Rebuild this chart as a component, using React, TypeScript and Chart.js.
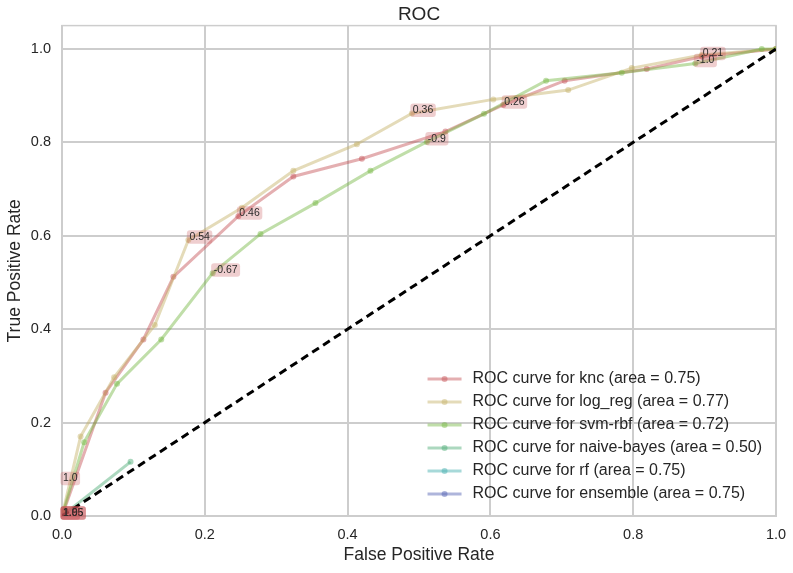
import React, { useEffect, useRef } from "react";
import { Chart, registerables } from "chart.js";

Chart.register(...registerables);

const FONT = "'Liberation Sans', Arial, Helvetica, sans-serif";
const TEXT = "#262626";
const GRID = "#cdcdcd";

const TITLE = "ROC";
const X_TITLE = "False Positive Rate";
const Y_TITLE = "True Positive Rate";

const xTicks = [0, 0.2, 0.4, 0.6, 0.8, 1.0];
const yTicks = [0, 0.2, 0.4, 0.6, 0.8, 1.0];

const seriesLabels = [
  "ROC curve for knc (area = 0.75)",
  "ROC curve for log_reg (area = 0.77)",
  "ROC curve for svm-rbf (area = 0.72)",
  "ROC curve for naive-bayes (area = 0.50)",
  "ROC curve for rf (area = 0.75)",
  "ROC curve for ensemble (area = 0.75)",
];

const seriesColors = [
  [196, 78, 82],
  [196, 176, 100],
  [115, 182, 65],
  [70, 168, 112],
  [60, 170, 170],
  [75, 90, 175],
];

const kncFpr = [0, 0.061, 0.114, 0.156, 0.247, 0.324, 0.42, 0.537, 0.618, 0.704, 0.819, 0.896, 1.0];
const kncTpr = [0, 0.264, 0.378, 0.512, 0.642, 0.727, 0.765, 0.823, 0.88, 0.932, 0.957, 0.984, 1.0];

const logRegFpr = [0, 0.026, 0.073, 0.13, 0.177, 0.252, 0.324, 0.413, 0.49, 0.604, 0.709, 0.798, 0.896, 1.0];
const logRegTpr = [0, 0.17, 0.297, 0.409, 0.591, 0.66, 0.739, 0.796, 0.862, 0.892, 0.912, 0.959, 0.987, 1.0];

const svmFpr = [0, 0.031, 0.077, 0.139, 0.211, 0.278, 0.355, 0.432, 0.511, 0.591, 0.678, 0.784, 0.887, 0.98, 1.0];
const svmTpr = [0, 0.158, 0.283, 0.378, 0.52, 0.604, 0.67, 0.739, 0.801, 0.861, 0.932, 0.949, 0.969, 1.0, 1.0];

const nbFpr = [0, 0.096];
const nbTpr = [0, 0.116];

const rfFpr = [0];
const rfTpr = [0];

const ensFpr = [0];
const ensTpr = [0];

const diagX = [0, 1];
const diagY = [0, 1];

const annX = [0, 0, 0, 0, 0, 0, 0.177, 0.247, 0.211, 0.49, 0.511, 0.618, 0.896, 0.887];
const annY = [0, 0, 0, 0, 0, 0.074, 0.591, 0.642, 0.52, 0.862, 0.801, 0.88, 0.984, 0.969];
const annText = ["2.0", "1.96", "1.85", "1.95", "1.0", "1.0", "0.54", "0.46", "-0.67", "0.36", "-0.9", "0.26", "0.21", "-1.0"];

const rgba = (c: number[], a: number) => `rgba(${c[0]},${c[1]},${c[2]},${a})`;
const toPoints = (xs: number[], ys: number[]) => xs.map((x, i) => ({ x, y: ys[i] }));

const titlePlugin = {
  id: "rocTitle",
  afterDraw(chart: any) {
    const { ctx, chartArea } = chart;
    ctx.save();
    ctx.font = `19px ${FONT}`;
    ctx.fillStyle = TEXT;
    ctx.textAlign = "center";
    ctx.textBaseline = "middle";
    ctx.fillText(TITLE, (chartArea.left + chartArea.right) / 2, 15);
    ctx.restore();
  },
};

const framePlugin = {
  id: "rocFrame",
  beforeDatasetsDraw(chart: any) {
    const { ctx, chartArea } = chart;
    ctx.save();
    ctx.strokeStyle = GRID;
    ctx.lineWidth = 1.5;
    ctx.strokeRect(chartArea.left, chartArea.top, chartArea.right - chartArea.left, chartArea.bottom - chartArea.top);
    ctx.restore();
  },
};

const annotationPlugin = {
  id: "rocAnnotations",
  afterDatasetsDraw(chart: any) {
    const { ctx } = chart;
    const xs = chart.scales.x;
    const ys = chart.scales.y;
    ctx.save();
    ctx.font = `10.5px ${FONT}`;
    ctx.textBaseline = "alphabetic";
    ctx.textAlign = "left";
    annText.forEach((t, i) => {
      const px = xs.getPixelForValue(annX[i]);
      const py = ys.getPixelForValue(annY[i]);
      const w = ctx.measureText(t).width;
      const bx = px - 1.5;
      const by = py - 9.8;
      const bw = w + 5;
      const bh = 13.5;
      ctx.fillStyle = "rgba(196,78,82,0.28)";
      ctx.beginPath();
      (ctx as any).roundRect(bx, by, bw, bh, 3);
      ctx.fill();
      ctx.fillStyle = "#2a2a2a";
      ctx.fillText(t, px + 1, py);
    });
    ctx.restore();
  },
};

const legendPlugin = {
  id: "rocLegend",
  afterDraw(chart: any) {
    const { ctx, chartArea } = chart;
    const items = chart.data.datasets.filter((d: any) => d.label);
    ctx.save();
    ctx.font = `16px ${FONT}`;
    const maxW = Math.max(...items.map((d: any) => ctx.measureText(d.label).width));
    const lineLen = 34;
    const gap = 11;
    const rowH = 23;
    const right = chartArea.right - 14;
    const left = right - maxW - lineLen - gap;
    const lastY = chartArea.bottom - 22;
    items.forEach((d: any, i: number) => {
      const y = lastY - (items.length - 1 - i) * rowH;
      ctx.strokeStyle = d.borderColor;
      ctx.lineWidth = 3;
      ctx.beginPath();
      ctx.moveTo(left, y);
      ctx.lineTo(left + lineLen, y);
      ctx.stroke();
      ctx.fillStyle = d.pointBackgroundColor;
      ctx.beginPath();
      ctx.arc(left + lineLen / 2, y, 3, 0, Math.PI * 2);
      ctx.fill();
      ctx.fillStyle = TEXT;
      ctx.textAlign = "left";
      ctx.textBaseline = "middle";
      ctx.fillText(d.label, left + lineLen + gap, y);
    });
    ctx.restore();
  },
};

export default function App() {
  const ref = useRef<HTMLCanvasElement | null>(null);

  useEffect(() => {
    if (!ref.current) return;
    const seriesX = [kncFpr, logRegFpr, svmFpr, nbFpr, rfFpr, ensFpr];
    const seriesY = [kncTpr, logRegTpr, svmTpr, nbTpr, rfTpr, ensTpr];
    const datasets: any[] = seriesLabels.map((label, i) => ({
      label,
      data: toPoints(seriesX[i], seriesY[i]),
      borderColor: rgba(seriesColors[i], 0.45),
      backgroundColor: rgba(seriesColors[i], 0.45),
      pointBackgroundColor: rgba(seriesColors[i], 0.45),
      pointBorderWidth: 0,
      pointRadius: 3,
      borderWidth: 3,
      fill: false,
      tension: 0,
      order: -i,
    }));
    datasets.push({
      label: "",
      data: toPoints(diagX, diagY),
      borderColor: "#000000",
      backgroundColor: "#000000",
      borderWidth: 3,
      borderDash: [8, 5],
      pointRadius: 0,
      fill: false,
      tension: 0,
      order: -10,
    });

    const tickFont = { family: FONT, size: 14.5 };
    const titleFont = { family: FONT, size: 17.5 };

    const chart = new Chart(ref.current, {
      type: "line",
      data: { datasets },
      plugins: [titlePlugin, framePlugin, annotationPlugin, legendPlugin],
      options: {
        animation: false,
        responsive: false,
        devicePixelRatio: 1,
        layout: { padding: { top: 25.6, right: 17, left: 0, bottom: 0 } },
        plugins: {
          legend: { display: false },
          title: { display: false },
          tooltip: { enabled: false },
        },
        scales: {
          x: {
            type: "linear",
            min: 0,
            max: 1,
            afterFit: (s: any) => {
              s.height = 57;
              s.paddingLeft = 0;
              s.paddingRight = 0;
            },
            afterBuildTicks: (s: any) => {
              s.ticks = xTicks.map((v) => ({ value: v }));
            },
            grid: { color: GRID, lineWidth: 2, drawTicks: false },
            border: { display: true, color: GRID, width: 2 },
            ticks: {
              padding: 10,
              font: tickFont,
              color: TEXT,
              maxRotation: 0,
              autoSkip: false,
              callback: (v: any) => Number(v).toFixed(1),
            },
            title: {
              display: true,
              text: X_TITLE,
              font: titleFont,
              color: TEXT,
              padding: { top: 0, bottom: 7.5 },
            },
          },
          y: {
            type: "linear",
            min: 0,
            max: 1.05,
            afterFit: (s: any) => {
              s.width = 62;
              s.paddingTop = 0;
              s.paddingBottom = 0;
            },
            afterBuildTicks: (s: any) => {
              s.ticks = yTicks.map((v) => ({ value: v }));
            },
            grid: { color: GRID, lineWidth: 2, drawTicks: false },
            border: { display: true, color: GRID, width: 2 },
            ticks: {
              padding: 11,
              font: tickFont,
              color: TEXT,
              autoSkip: false,
              callback: (v: any) => Number(v).toFixed(1),
            },
            title: {
              display: true,
              text: Y_TITLE,
              font: titleFont,
              color: TEXT,
              padding: { top: 5, bottom: 0 },
            },
          },
        },
      } as any,
    });
    return () => chart.destroy();
  }, []);

  return (
    <div style={{ position: "fixed", left: 0, top: 0, width: 793, height: 573, background: "#ffffff" }}>
      <canvas ref={ref} width={793} height={573} style={{ display: "block" }} />
    </div>
  );
}
